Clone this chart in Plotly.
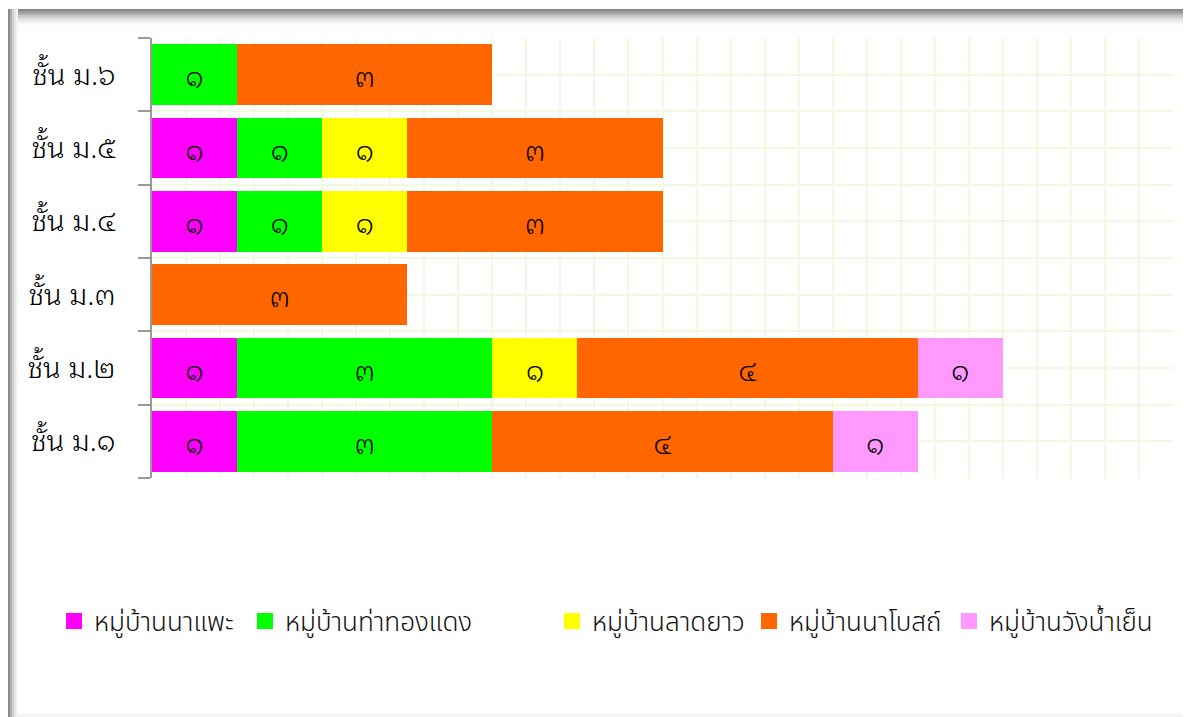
import plotly.graph_objects as go

# ---------------- data ----------------
categories = ["ชั้น ม.๑", "ชั้น ม.๒", "ชั้น ม.๓", "ชั้น ม.๔", "ชั้น ม.๕", "ชั้น ม.๖"]
series_names = ["หมู่บ้านนาแพะ", "หมู่บ้านท่าทองแดง", "หมู่บ้านลาดยาว", "หมู่บ้านนาโบสถ์", "หมู่บ้านวังน้ำเย็น"]
na_phae = [1, 1, 0, 1, 1, 0]
tha_thongdaeng = [3, 3, 0, 1, 1, 1]
lat_yao = [0, 1, 0, 1, 1, 0]
na_bot = [4, 4, 3, 3, 3, 3]
wang_nam_yen = [1, 1, 0, 0, 0, 0]
series_values = [na_phae, tha_thongdaeng, lat_yao, na_bot, wang_nam_yen]
colors = ["#ff00ff", "#00ff00", "#ffff00", "#ff6600", "#ff99ff"]

THAI_DIGITS = str.maketrans("0123456789", "๐๑๒๓๔๕๖๗๘๙")

def thai(v):
    return str(v).translate(THAI_DIGITS) if v else ""

OFF = 8  # default page body margin
W, H = 1191 - OFF, 717 - OFF
# plot-area edges in page pixels
L, R, T, B = 152, 1173, 38, 478

def px(x):
    return (x - L) / (R - L)

def py(y):
    return (B - y) / (B - T)

LOOPED = "Noto Sans Thai Looped, Noto Serif Thai, Noto Sans Thai, sans-serif"
LOOPLESS = "Noto Sans Thai, Noto Sans, sans-serif"
GRID = "#f0fade"

fig = go.Figure()
ypos = list(range(len(categories)))
legend_x = [68, 259, 566, 763, 963]
for i, (name, vals, col) in enumerate(zip(series_names, series_values, colors)):
    lg = "legend" if i == 0 else f"legend{i+1}"
    fig.add_trace(go.Bar(
        y=ypos, x=vals, orientation="h", name=name,
        marker=dict(color=col, line=dict(width=0)),
        text=[thai(v) for v in vals], textposition="inside",
        insidetextanchor="middle", textangle=0,
        textfont=dict(size=28, color="#000000", family=LOOPED, weight=300),
        showlegend=False, legendgroup=name, hoverinfo="skip",
    ))
    fig.add_trace(go.Scatter(
        x=[None], y=[None], mode="markers", name=name,
        marker=dict(symbol="square", size=18, color=col),
        legendgroup=name, showlegend=True, legend=lg,
    ))

layout_legends = {}
for i, lx in enumerate(legend_x):
    key = "legend" if i == 0 else f"legend{i+1}"
    layout_legends[key] = dict(
        x=px(lx - 14), y=py(621), xanchor="left", yanchor="middle",
        orientation="h", bgcolor="rgba(0,0,0,0)",
        font=dict(size=26, color="#111111", family=LOOPLESS, weight=300),
        itemsizing="trace",
    )

# frame shadow shapes (page pixel coordinates)
shapes = []
def rect(x0, y0, x1, y1, color):
    shapes.append(dict(type="rect", xref="paper", yref="paper",
                       x0=px(x0), x1=px(x1), y0=py(y1), y1=py(y0),
                       fillcolor=color, line=dict(width=0), layer="below"))

top_steps = [(9, "#8a8a8a"), (11, "#9c9c9c"), (13, "#b0b0b0"), (15, "#c6c6c6"),
             (17, "#d8d8d8"), (19, "#e6e6e6"), (21, "#f0f0f0"), (23, "#f8f8f8")]
for y0, c in top_steps:
    rect(8, y0, 1191, y0 + 2, c)
left_steps = [(8, "#8a8a8a"), (10, "#b0b0b0"), (12, "#d0d0d0"),
              (14, "#e6e6e6"), (16, "#f4f4f4")]
for x0, c in left_steps:
    rect(x0, 9, x0 + 2, 717, c)
rect(1184, 9, 1187, 717, "#f6f6f6")
rect(1187, 9, 1191, 717, "#ededed")
rect(18, 714, 1191, 717, "#f4f4f4")

fig.update_layout(
    width=W, height=H,
    margin=dict(l=L - OFF, r=1191 - R, t=T - OFF, b=717 - B, autoexpand=False),
    paper_bgcolor="white", plot_bgcolor="white",
    barmode="stack", bargap=0.17,
    shapes=shapes,
    font=dict(family=LOOPED),
    **layout_legends,
)
fig.update_xaxes(
    range=[0, 12], showticklabels=False, ticks="",
    tick0=0, dtick=0.4, showgrid=True, gridcolor=GRID, gridwidth=1.5,
    zeroline=False, showline=False, fixedrange=True,
)
fig.update_yaxes(
    range=[-0.5, 5.5], tickmode="array", tickvals=ypos, ticktext=categories,
    ticks="", showgrid=True, gridcolor=GRID, gridwidth=1.5,
    tickfont=dict(size=29, color="#000000", family=LOOPED, weight=300),
    ticklabelstandoff=29,
    minor=dict(tickmode="array", tickvals=[i - 0.5 for i in range(len(categories) + 1)],
               ticks="outside", ticklen=12, tickcolor="#999999", tickwidth=1.5,
               showgrid=True, gridcolor=GRID, gridwidth=1.5),
    showline=True, linecolor="#999999", linewidth=1.5,
    zeroline=False, fixedrange=True,
)

fig.write_html("out.html")
